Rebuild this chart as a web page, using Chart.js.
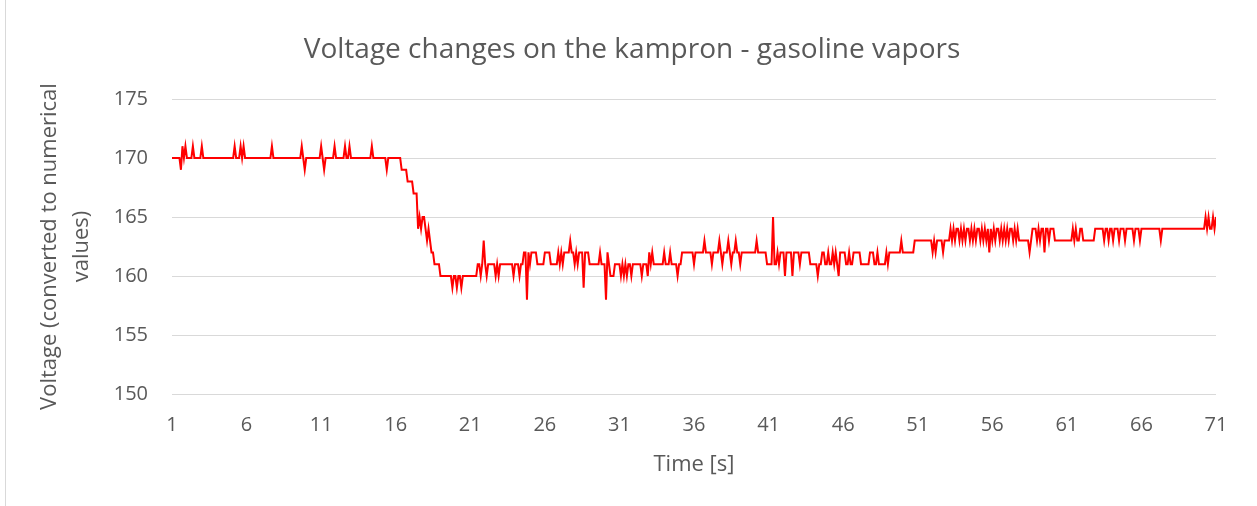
<!DOCTYPE html>
<html>
<head>
<meta charset="utf-8">
<script src="https://cdn.jsdelivr.net/npm/chart.js@4.4.1/dist/chart.umd.min.js"></script>
<style>
  html, body { margin: 0; padding: 0; background: #fff; }
  #wrap { position: relative; width: 1257px; height: 506px; }
  #frame { position: absolute; left: 5px; top: 0; height: 506px; border-left: 1px solid #d9d9d9; }
</style>
</head>
<body>
<div id="wrap">
  <canvas id="chartVoltage" width="1257" height="506"></canvas>
  <div id="frame"></div>
</div>
<script>
// ───────────────────────────────────────────────────────────────────────────
// DATA — kampron voltage, gasoline vapors (10 samples per second, 1 s → 71 s)
// ───────────────────────────────────────────────────────────────────────────

const CHART_TITLE = "Voltage changes on the kampron - gasoline vapors";
const X_TITLE = "Time [s]";
const Y_TITLE = ["Voltage (converted to numerical", "values)"];

const timeTicks = [1, 6, 11, 16, 21, 26, 31, 36, 41, 46, 51, 56, 61, 66, 71];
const voltageTicks = [150, 155, 160, 165, 170, 175];
const samplesPerSecond = 10;

// one row per second
const voltage = [
  170,170,170,170,170,170,169,171,170,171,
  170,170,170,170,171,170,170,170,170,170,
  171,170,170,170,170,170,170,170,170,170,
  170,170,170,170,170,170,170,170,170,170,
  170,170,171,170,170,170,171,170,171,170,
  170,170,170,170,170,170,170,170,170,170,
  170,170,170,170,170,170,170,171,170,170,
  170,170,170,170,170,170,170,170,170,170,
  170,170,170,170,170,170,170,171,170,169,
  170,170,170,170,170,170,170,170,170,170,
  171,170,169,170,170,170,170,170,170,171,
  170,170,170,170,170,170,171,170,170,171,
  170,170,170,170,170,170,170,170,170,170,
  170,170,170,170,171,170,170,170,170,170,
  170,170,170,170,169,170,170,170,170,170,
  170,170,170,170,169,169,169,169,168,168,
  168,168,167,167,167,164,165,164,165,165,
  164,163,164,163,162,162,161,161,161,161,
  160,160,160,160,160,160,160,160,159,160,
  160,159,160,160,159,160,160,160,160,160,
  160,160,160,160,160,161,161,160,161,163,
  161,160,161,161,161,161,161,160,161,160,
  161,161,161,161,161,161,161,161,161,160,
  161,161,161,160,161,161,162,162,158,162,
  161,162,162,162,162,161,161,161,161,161,
  162,162,162,162,161,161,161,161,161,162,
  161,162,161,162,162,162,162,163,162,162,
  161,162,161,162,162,162,159,162,162,162,
  161,161,161,161,161,161,161,162,161,161,
  161,158,162,161,160,160,160,161,161,161,
  161,160,161,160,161,160,161,161,160,161,
  161,161,161,161,161,160,161,161,161,160,
  162,161,162,161,161,161,161,161,161,161,
  162,161,161,161,162,161,161,161,161,160,
  161,161,162,162,162,162,162,162,162,162,
  161,162,162,162,162,162,162,163,162,162,
  162,162,161,162,162,162,162,163,162,161,
  162,162,162,163,162,161,162,162,163,162,
  162,161,162,162,162,162,162,162,162,162,
  162,162,163,162,162,162,162,162,162,161,
  161,161,161,165,161,161,162,161,162,162,
  162,160,162,162,162,162,160,162,162,162,
  162,161,162,162,162,162,162,162,161,161,
  161,161,161,160,161,161,162,162,161,161,
  162,161,161,162,161,162,161,160,162,162,
  162,162,161,161,162,161,161,162,162,162,
  162,162,161,161,161,161,161,161,162,162,
  162,161,161,162,161,161,161,161,161,162,
  161,162,162,162,162,162,162,162,162,163,
  162,162,162,162,162,162,162,162,163,163,
  163,163,163,163,163,163,163,163,163,163,
  162,163,162,163,163,163,163,162,163,163,
  163,163,164,163,164,163,164,164,163,164,
  163,164,163,164,164,163,164,163,164,163,
  164,164,163,164,163,164,163,164,162,164,
  163,164,163,164,164,163,164,163,164,163,
  164,163,164,164,163,164,163,164,163,163,
  163,163,163,163,163,162,163,164,164,164,
  163,164,163,164,164,162,164,164,163,164,
  164,164,163,163,163,163,163,163,163,163,
  163,163,163,163,164,163,164,163,163,164,
  164,163,163,163,163,163,163,163,163,164,
  164,164,164,164,164,163,164,164,163,164,
  164,163,164,164,164,163,164,164,164,163,
  164,164,164,164,164,163,164,164,164,163,
  164,164,164,164,164,164,164,164,164,164,
  164,164,164,163,164,164,164,164,164,164,
  164,164,164,164,164,164,164,164,164,164,
  164,164,164,164,164,164,164,164,164,164,
  164,164,164,165,164,165,164,164,165,164,
  165
];

// ───────────────────────────────────────────────────────────────────────────
// RENDER
// ───────────────────────────────────────────────────────────────────────────

const TEXT = "#595959";
const GRID = "#d9d9d9";
const LINE = "#ff0000";
const FONT = "'Open Sans', sans-serif";

const points = voltage.map((v, i) => ({ x: timeTicks[0] + i / samplesPerSecond, y: v }));

// the title is centred on the whole chart box, not on the padded one
const centreTitle = {
  id: "centreTitle",
  afterLayout(chart) {
    const t = chart.titleBlock;
    if (!t) return;
    t.left = 7;
    t.right = chart.width;
    t.width = t.right - t.left;
  },
};

new Chart(document.getElementById("chartVoltage").getContext("2d"), {
  type: "line",
  data: {
    datasets: [{
      label: "Voltage",
      data: points,
      borderColor: LINE,
      borderWidth: 2,
      pointRadius: 0,
      tension: 0,
      fill: false,
    }],
  },
  plugins: [centreTitle],
  options: {
    responsive: false,
    animation: false,
    layout: { padding: { top: 0, left: 0, right: 41, bottom: 0 } },
    plugins: {
      legend: { display: false },
      tooltip: { enabled: false },
      title: {
        display: true,
        text: CHART_TITLE,
        color: TEXT,
        font: { family: FONT, size: 28, weight: "normal", lineHeight: 1.2 },
        padding: { top: 33, bottom: 32.4 },
      },
    },
    scales: {
      x: {
        type: "linear",
        min: timeTicks[0],
        max: timeTicks[timeTicks.length - 1],
        afterBuildTicks: (s) => { s.ticks = timeTicks.map((v) => ({ value: v })); },
        afterFit: (s) => { s.height = 112; },
        grid: { display: false, drawTicks: false },
        border: { display: false },
        ticks: { color: TEXT, font: { family: FONT, size: 20 }, padding: 19, maxRotation: 0, autoSkip: false },
        title: {
          display: true,
          text: X_TITLE,
          color: TEXT,
          font: { family: FONT, size: 22, lineHeight: 1.2 },
          padding: { top: 0, bottom: 28 },
        },
      },
      y: {
        min: voltageTicks[0],
        max: voltageTicks[voltageTicks.length - 1],
        afterBuildTicks: (s) => { s.ticks = voltageTicks.map((v) => ({ value: v })); },
        afterFit: (s) => { s.width = 172; },
        grid: { color: GRID, lineWidth: 1, drawTicks: false },
        border: { display: false },
        ticks: { color: TEXT, font: { family: FONT, size: 20 }, padding: 24 },
        title: {
          display: true,
          text: Y_TITLE,
          color: TEXT,
          font: { family: FONT, size: 22, lineHeight: 1.45 },
          padding: { top: 34, bottom: 0 },
        },
      },
    },
  },
});
</script>
</body>
</html>
